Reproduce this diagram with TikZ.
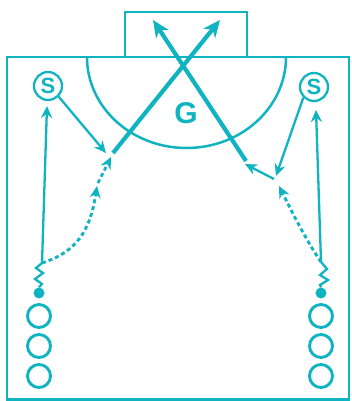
\documentclass[tikz,border=0pt]{standalone}
\usepackage{fontspec}
\setmainfont{Liberation Sans}
\usetikzlibrary{arrows.meta}
\definecolor{tc}{RGB}{16,180,192}
\begin{document}
\begin{tikzpicture}[x=1pt,y=-1pt,
  court/.style={draw=tc, line width=2.5pt},
  shot/.style={draw=tc, line width=4.2pt, -{Stealth[length=17pt,width=15pt,inset=5pt]}},
  pass/.style={draw=tc, line width=2.3pt, -{Stealth[length=12pt,width=11pt,inset=4pt]}},
  runline/.style={draw=tc, line width=2.9pt, dash pattern=on 4pt off 3pt, -{Stealth[length=12pt,width=11pt,inset=4pt]}},
  player/.style={circle, draw=tc, line width=2.9pt, minimum size=23pt, inner sep=0pt},
  shooter/.style={circle, draw=tc, line width=2.3pt, minimum size=28pt, inner sep=0pt, text=tc, font=\bfseries\fontsize{22}{22}\selectfont},
  ball/.style={circle, fill=tc, minimum size=11pt, inner sep=0pt},
  zig/.style={draw=tc, line width=2.3pt, line join=miter}
]
\useasboundingbox (0,0) rectangle (351,401);
% court
\draw[court] (7,57) rectangle (349,399.5);
\draw[court] (125,57) -- (125,12) -- (247,12) -- (247,57);
\draw[court] (87,57) arc[start angle=180, end angle=0, x radius=99.5, y radius=91];
\node[text=tc, font=\bfseries\fontsize{30}{30}\selectfont] (G) at (186,113) {G};
% shooters
\node[shooter] (sL) at (48,86) {S};
\node[shooter] (sR) at (314,87) {S};
% players
\node[player] (pL1) at (39,316) {};
\node[player] (pL2) at (39,346) {};
\node[player] (pL3) at (39,376) {};
\node[player] (pR1) at (321,316) {};
\node[player] (pR2) at (321,346) {};
\node[player] (pR3) at (321,376) {};
\node[ball] (bL) at (39,293) {};
\node[ball] (bR) at (321,293) {};
% coordinates
\coordinate (lz) at (42,263);
\coordinate (rz) at (321,262);
\coordinate (lup) at (47,106);
\coordinate (rup) at (316,110);
\coordinate (lpass) at (106,153);
\coordinate (rpass) at (276,176);
\coordinate (lrun1) at (97,186);
\coordinate (lrun2) at (98,183);
\coordinate (lrec) at (111,157);
\coordinate (lshot) at (113,153);
\coordinate (ltip) at (220,20);
\coordinate (rrun) at (279,186);
\coordinate (rrec) at (274,179);
\coordinate (rmove) at (245,164);
\coordinate (rshot) at (246,161);
\coordinate (rtip) at (153,20);
% zigzags
\draw[zig] (bL.north) -- (42,284) -- (35,279) -- (43,273) -- (36,268) -- (lz);
\draw[zig] (bR.north) -- (320,285) -- (328,280) -- (320,275) -- (327,269) -- (rz);
% runs up the sides
\draw[pass] (lz) -- (lup);
\draw[pass] (rz) -- (rup);
% passes from S
\draw[pass] (sL.south east) -- (lpass);
\draw[pass] (sR.south west) -- (rpass);
% dashed runs
\draw[runline] (lz) .. controls (76,252) and (90,232) .. (lrun1);
\draw[runline] (lrun2) -- (lrec);
\draw[runline] (rz) .. controls (306,240) and (292,212) .. (rrun);
\draw[pass] (rrec) -- (rmove);
% shots
\draw[shot] (lshot) -- (ltip);
\draw[shot] (rshot) -- (rtip);
\end{tikzpicture}
\end{document}
